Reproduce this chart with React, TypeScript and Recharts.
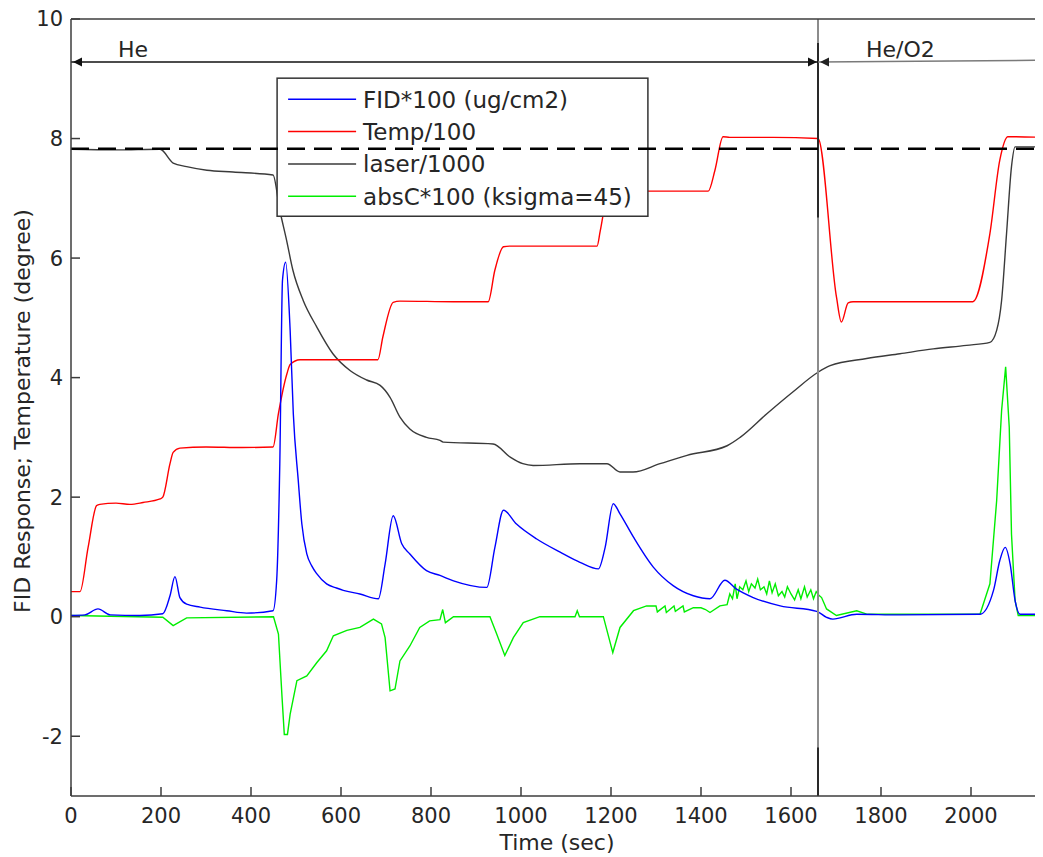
import React from 'react';
import { LineChart, Line, XAxis, YAxis, ReferenceLine, ReferenceArea, ReferenceDot } from 'recharts';

const X_MAX = 2160;
const xTicks = [0, 200, 400, 600, 800, 1000, 1200, 1400, 1600, 1800, 2000];
const yTicks = [-2, 0, 2, 4, 6, 8, 10];

const seriesNames = ['FID*100 (ug/cm2)', 'Temp/100', 'laser/1000', 'absC*100 (ksigma=45)'];
const seriesColors = ['#0000ff', '#ff0000', '#3a3a3a', '#00ee00'];

const gasSwitchTime = 1660;
const laserRefLevel = 7.83;
const arrowLevel = 9.28;

const tempTime = [0, 20, 38, 57, 64, 100, 131, 160, 198, 204, 220, 227, 242, 300, 380, 449, 461, 480, 487, 509, 600, 682, 693, 716, 731, 850, 927, 942, 961, 975, 1080, 1169, 1176, 1190, 1200, 1300, 1416, 1431, 1449, 1464, 1560, 1660, 1701, 1712, 1727, 1738, 1850, 2004, 2042, 2064, 2082, 2160];
const tempValue = [0.42, 0.42, 1.16, 1.86, 1.88, 1.9, 1.88, 1.91, 1.97, 2.0, 2.56, 2.75, 2.82, 2.84, 2.83, 2.84, 3.4, 4.07, 4.22, 4.3, 4.3, 4.3, 4.68, 5.26, 5.28, 5.27, 5.27, 5.8, 6.19, 6.2, 6.2, 6.2, 6.45, 7.0, 7.12, 7.12, 7.12, 7.47, 8.03, 8.02, 8.02, 8.0, 5.35, 4.93, 5.25, 5.27, 5.27, 5.27, 6.41, 7.64, 8.03, 8.02];

const laserTime = [0, 100, 198, 227, 257, 302, 360, 449, 464, 479, 493, 516, 546, 582, 620, 657, 687, 709, 731, 753, 790, 820, 827, 938, 976, 1004, 1027, 1131, 1191, 1220, 1249, 1309, 1369, 1458, 1487, 1547, 1604, 1660, 1687, 1768, 1842, 1916, 1990, 2042, 2057, 2068, 2079, 2090, 2098, 2160];
const laserValue = [7.82, 7.81, 7.82, 7.59, 7.53, 7.47, 7.44, 7.39, 6.8, 6.3, 5.8, 5.29, 4.85, 4.4, 4.12, 3.96, 3.87, 3.67, 3.34, 3.14, 3.0, 2.95, 2.92, 2.89, 2.67, 2.56, 2.53, 2.56, 2.56, 2.42, 2.42, 2.56, 2.7, 2.86, 3.0, 3.4, 3.76, 4.09, 4.2, 4.32, 4.4, 4.48, 4.54, 4.59, 4.79, 5.29, 6.41, 7.53, 7.86, 7.86];

const fidTime = [0, 31, 60, 87, 153, 204, 220, 231, 242, 257, 287, 346, 390, 449, 457, 464, 470, 477, 487, 494, 505, 513, 524, 535, 546, 568, 590, 605, 642, 683, 698, 716, 735, 753, 790, 820, 850, 924, 942, 961, 990, 1035, 1087, 1131, 1172, 1187, 1205, 1220, 1250, 1294, 1338, 1383, 1420, 1453, 1479, 1516, 1576, 1657, 1679, 1693, 1746, 1842, 2020, 2050, 2064, 2076, 2087, 2098, 2109, 2160];
const fidValue = [0.02, 0.03, 0.13, 0.03, 0.02, 0.05, 0.35, 0.67, 0.32, 0.21, 0.16, 0.1, 0.06, 0.1, 0.6, 2.56, 5.63, 5.93, 4.79, 3.4, 2.28, 1.55, 1.05, 0.85, 0.72, 0.55, 0.48, 0.44, 0.38, 0.3, 0.88, 1.69, 1.22, 1.05, 0.77, 0.69, 0.6, 0.49, 1.16, 1.78, 1.55, 1.3, 1.08, 0.91, 0.8, 1.16, 1.89, 1.72, 1.33, 0.83, 0.52, 0.35, 0.3, 0.61, 0.46, 0.32, 0.18, 0.09, -0.01, -0.04, 0.04, 0.03, 0.04, 0.44, 0.94, 1.16, 0.88, 0.27, 0.04, 0.04];

const absCTime = [0, 204, 227, 257, 450, 461, 469, 474, 481, 487, 502, 524, 546, 568, 583, 613, 642, 672, 690, 698, 709, 720, 731, 753, 775, 797, 820, 826, 832, 850, 931, 946, 964, 983, 1005, 1042, 1120, 1125, 1130, 1183, 1204, 1220, 1250, 1279, 1300, 1303, 1320, 1323, 1340, 1343, 1360, 1363, 1383, 1400, 1410, 1420, 1442, 1458, 1464, 1470, 1476, 1480, 1486, 1493, 1500, 1506, 1512, 1520, 1526, 1532, 1540, 1546, 1552, 1558, 1565, 1572, 1580, 1586, 1592, 1600, 1608, 1616, 1622, 1630, 1636, 1644, 1650, 1656, 1662, 1668, 1679, 1701, 1746, 1770, 2020, 2042, 2057, 2068, 2077, 2085, 2090, 2098, 2105, 2160];
const absCValue = [0.02, -0.01, -0.15, -0.02, 0.0, -0.29, -1.35, -1.97, -1.97, -1.63, -1.07, -0.99, -0.77, -0.57, -0.32, -0.23, -0.18, -0.04, -0.12, -0.35, -1.24, -1.21, -0.74, -0.49, -0.18, -0.07, -0.05, 0.12, -0.1, 0.0, 0.0, -0.29, -0.65, -0.35, -0.1, 0.0, 0.0, 0.1, 0.0, 0.0, -0.6, -0.18, 0.1, 0.18, 0.18, 0.08, 0.18, 0.07, 0.18, 0.09, 0.18, 0.08, 0.15, 0.15, 0.12, 0.07, 0.18, 0.2, 0.38, 0.3, 0.55, 0.3, 0.5, 0.45, 0.6, 0.42, 0.55, 0.48, 0.63, 0.45, 0.5, 0.38, 0.6, 0.4, 0.55, 0.35, 0.42, 0.33, 0.5, 0.38, 0.28, 0.45, 0.3, 0.5, 0.33, 0.45, 0.3, 0.42, 0.36, 0.32, 0.13, 0.02, 0.1, 0.04, 0.04, 0.55, 1.94, 3.45, 4.18, 3.17, 1.38, 0.27, 0.02, 0.02];

const toPoints = (ts: number[], vs: number[]) => ts.map((t, i) => ({ t, v: vs[i] }));
const fidData = toPoints(fidTime, fidValue);
const tempData = toPoints(tempTime, tempValue);
const laserData = toPoints(laserTime, laserValue);
const absCData = toPoints(absCTime, absCValue);

const FONT = '"DejaVu Sans", Verdana, sans-serif';
const AXIS = '#3c3c3c';
const TEXT = '#262626';
const TICK_LEN = 9;

const BottomTick = (p: any) => (
  <g>
    <line x1={p.x} x2={p.x} y1={p.y - 12} y2={p.y - 12 - TICK_LEN} stroke={AXIS} strokeWidth={1.5} />
    <text x={p.x} y={p.y} dy="0.71em" textAnchor="middle" fontSize={21} fontFamily={FONT} fill={TEXT}>
      {p.payload.value}
    </text>
  </g>
);
const TopTick = (p: any) => (
  <line x1={p.x} x2={p.x} y1={p.y} y2={p.y + TICK_LEN} stroke={AXIS} strokeWidth={1.5} />
);
const LeftTick = (p: any) => (
  <g>
    <line x1={p.x + 8} x2={p.x + 8 + TICK_LEN} y1={p.y} y2={p.y} stroke={AXIS} strokeWidth={1.5} />
    <text x={p.x} y={p.y} dy="0.355em" textAnchor="end" fontSize={21} fontFamily={FONT} fill={TEXT}>
      {p.payload.value}
    </text>
  </g>
);

const LegendBox = (p: any) => {
  const { x, y, width, height } = p;
  return (
    <g>
      <rect x={x} y={y} width={width} height={height} fill="#ffffff" stroke="#333" strokeWidth={1.5} />
      {seriesNames.map((n, i) => {
        const cy = y + 21 + i * 32.4;
        return (
          <g key={n}>
            <line x1={x + 11} x2={x + 79} y1={cy} y2={cy} stroke={seriesColors[i]} strokeWidth={1.5} />
            <text x={x + 86} y={cy + 8.5} fontSize={23} fontFamily={FONT} fill={TEXT}>{n}</text>
          </g>
        );
      })}
    </g>
  );
};

const arrowLeft = (color: string) => (p: any) => (
  <path d={`M${p.cx + 2},${p.cy} l9,-4.5 l0,9 z`} fill={color} stroke="none" />
);
const arrowRight = (color: string) => (p: any) => (
  <path d={`M${p.cx - 1},${p.cy} l-9,-4.5 l0,9 z`} fill={color} stroke="none" />
);
const textShape = (label: string, dx: number) => (p: any) => (
  <text x={p.cx + dx} y={p.cy - 5} fontSize={22} fontFamily={FONT} fill={TEXT}>{label}</text>
);

export default function App() {
  return (
    <div style={{ width: 1035, height: 849 }}>
      <style>{'html,body{overflow:hidden}'}</style>
      <LineChart width={1035} height={849} margin={{ top: 10, right: 0, left: 0, bottom: 0 }}>
        <XAxis
          xAxisId="top"
          orientation="top"
          type="number"
          dataKey="t"
          domain={[0, X_MAX]}
          ticks={xTicks}
          height={1}
          tick={TopTick}
          tickLine={false}
          tickSize={0}
          tickMargin={0}
          stroke={AXIS}
          strokeWidth={1.5}
        />
        <XAxis
          type="number"
          dataKey="t"
          domain={[0, X_MAX]}
          allowDataOverflow
          ticks={xTicks}
          height={61}
          tickLine={false}
          tickSize={0}
          tickMargin={12}
          stroke={AXIS}
          strokeWidth={1.5}
          tick={BottomTick}
          label={{
            content: (props: any) => {
              const vb = props.viewBox || { x: 63, y: 788, width: 972 };
              return (
                <text x={vb.x + vb.width / 2} y={vb.y + 54} textAnchor="middle" fontSize={22} fontFamily={FONT} fill={TEXT}>
                  Time (sec)
                </text>
              );
            },
          }}
        />
        <YAxis
          type="number"
          domain={[-3, 10]}
          allowDataOverflow
          ticks={yTicks}
          width={63}
          tickLine={false}
          tickSize={0}
          tickMargin={8}
          stroke={AXIS}
          strokeWidth={1.5}
          tick={LeftTick}
          label={{
            content: (props: any) => {
              const vb = props.viewBox || { x: 0, y: 11, height: 777 };
              const cx = vb.x + 22;
              const cy = vb.y + vb.height / 2 + 3.5;
              return (
                <text x={cx} y={cy} transform={`rotate(-90 ${cx} ${cy})`} textAnchor="middle" fontSize={22} fontFamily={FONT} fill={TEXT}>
                  FID Response; Temperature (degree)
                </text>
              );
            },
          }}
        />

        <Line data={laserData} dataKey="v" type="monotone" stroke={seriesColors[2]} strokeWidth={1.4} dot={false} isAnimationActive={false} />
        <Line data={tempData} dataKey="v" type="monotone" stroke={seriesColors[1]} strokeWidth={1.4} dot={false} isAnimationActive={false} />
        <Line data={absCData} dataKey="v" type="linear" stroke={seriesColors[3]} strokeWidth={1.4} dot={false} isAnimationActive={false} />
        <Line data={fidData} dataKey="v" type="monotone" stroke={seriesColors[0]} strokeWidth={1.4} dot={false} isAnimationActive={false} />

        <ReferenceLine x={gasSwitchTime} stroke="#8c8c8c" strokeWidth={2} zIndex={420} />
        <ReferenceLine segment={[{ x: gasSwitchTime, y: 9.6 }, { x: gasSwitchTime, y: 6.68 }]} stroke="#111" strokeWidth={1.6} zIndex={421} />
        <ReferenceLine segment={[{ x: gasSwitchTime, y: -2.19 }, { x: gasSwitchTime, y: -3 }]} stroke="#111" strokeWidth={1.6} zIndex={421} />

        <ReferenceLine segment={[{ x: 0, y: arrowLevel }, { x: gasSwitchTime, y: arrowLevel }]} stroke="#111" strokeWidth={1.4} zIndex={422} />
        <ReferenceLine segment={[{ x: gasSwitchTime, y: arrowLevel }, { x: X_MAX, y: arrowLevel + 0.03 }]} stroke="#7a7a7a" strokeWidth={1.6} zIndex={422} />
        <ReferenceDot x={0} y={arrowLevel} shape={arrowLeft('#111')} zIndex={423} />
        <ReferenceDot x={gasSwitchTime} y={arrowLevel} shape={arrowRight('#111')} zIndex={423} />
        <ReferenceDot x={gasSwitchTime} y={arrowLevel} shape={arrowLeft('#222')} zIndex={423} />
        <ReferenceDot x={0} y={arrowLevel} shape={textShape('He', 47)} zIndex={423} />
        <ReferenceDot x={gasSwitchTime} y={arrowLevel} shape={textShape('He/O2', 48)} zIndex={423} />

        <ReferenceArea x1={458} x2={1282} y1={6.7} y2={9.01} shape={LegendBox} zIndex={450} ifOverflow="visible" />
        <ReferenceLine y={laserRefLevel} stroke="#000" strokeWidth={2.6} strokeDasharray="18 9" zIndex={460} />
      </LineChart>
    </div>
  );
}
